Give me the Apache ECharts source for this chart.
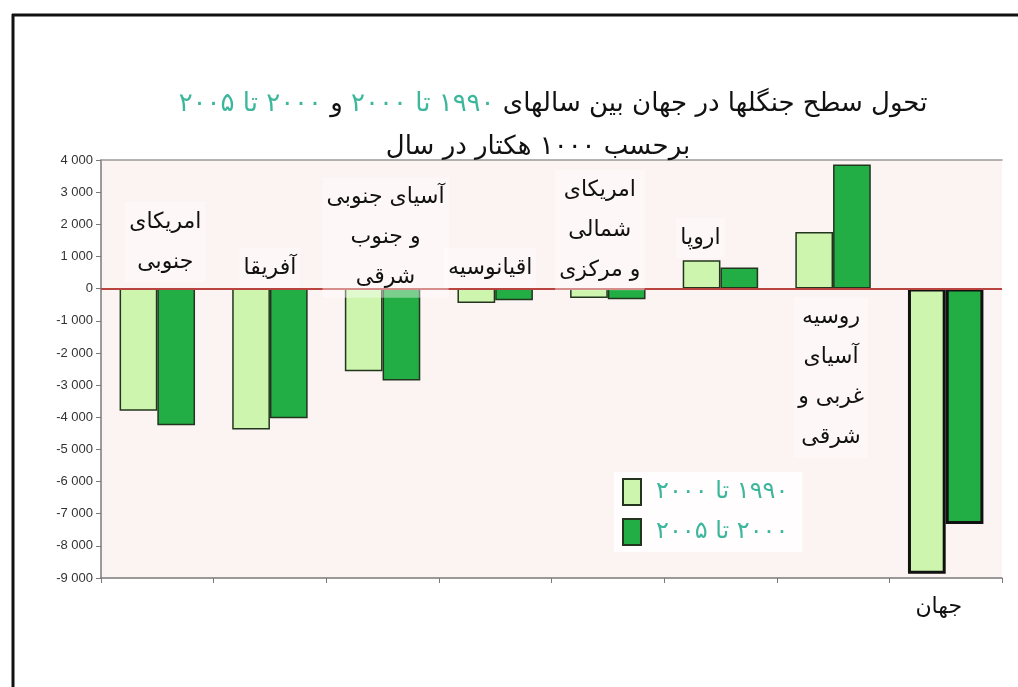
<!DOCTYPE html>
<html>
<head>
<meta charset="utf-8">
<script src="https://cdn.jsdelivr.net/npm/echarts@6/dist/echarts.min.js"></script>
<style>
  html, body { margin: 0; padding: 0; background: #ffffff; }
  #chart { width: 1018px; height: 687px; }
</style>
</head>
<body>
<div id="chart"></div>
<script>
// Regions (line breaks are how the names are laid out inside the plot)
const categories = [
  'امریکای\nجنوبی',
  'آفریقا',
  'آسیای جنوبی\nو جنوب\nشرقی',
  'اقیانوسیه',
  'امریکای\nشمالی\nو مرکزی',
  'اروپا',
  'روسیه\nآسیای\nغربی و\nشرقی',
  'جهان'
];

// Annual change of forest area, 1000 ha per year
const change1990to2000 = [-3800, -4380, -2570, -450, -290, 880, 1760, -8870];
const change2000to2005 = [-4250, -4030, -2860, -360, -330, 660, 3860, -7320];

// Series names (RLM keeps the Persian digits in right-to-left order)
const seriesNames = ['\u200F۱۹۹۰ تا ۲۰۰۰', '\u200F۲۰۰۰ تا ۲۰۰۵'];

// Y axis range
const yMin = -9000, yMax = 4000, yStep = 1000;

// Where each region name sits: top of text block (in axis units) and a small horizontal nudge (px)
const labelPlacement = [
  { top: 2700, dx: 8 },
  { top: 1260, dx: 0 },
  { top: 3450, dx: 3 },
  { top: 1260, dx: -5 },
  { top: 3680, dx: -8 },
  { top: 2200, dx: -20 },
  { top: -280, dx: -2 },
  { top: -9290, dx: -7 }
];

const LIGHT = '#cdf5ad';
const DARK = '#22ae44';
const EDGE = '#23351f';
const WORLD = categories.length - 1;

function barData(values) {
  return values.map((v, i) => i === WORLD
    ? { value: v, itemStyle: { borderWidth: 3, borderColor: '#111' } }
    : v);
}

function fmtTick(v) {
  if (v === 0) return '0';
  const s = Math.abs(v).toString();
  const body = s.length > 3 ? s.slice(0, s.length - 3) + ' ' + s.slice(-3) : s;
  return (v < 0 ? '-' : '') + body;
}

const chart = echarts.init(document.getElementById('chart'));
const FA = "'DejaVu Sans', sans-serif";

chart.setOption({
  animation: false,
  backgroundColor: '#ffffff',
  grid: {
    left: 101, right: 16, top: 160, bottom: 109,
    show: true, backgroundColor: '#fcf4f2', borderWidth: 0
  },
  legend: {
    orient: 'vertical',
    left: 614, top: 472,
    itemWidth: 18, itemHeight: 26, itemGap: 12,
    icon: 'rect',
    backgroundColor: '#fffdfd',
    padding: [6, 14, 6, 8],
    textStyle: { color: '#3db79c', fontSize: 24, fontFamily: FA, padding: [0, 0, 0, 10] },
    data: seriesNames
  },
  xAxis: [{
    type: 'category',
    data: categories,
    position: 'bottom',
    axisLine: { onZero: false, lineStyle: { color: '#7a7a7a', width: 1.5 } },
    axisTick: { show: true, length: 5, lineStyle: { color: '#7a7a7a' } },
    axisLabel: { show: false },
    splitLine: { show: false }
  }, {
    type: 'category',
    data: categories,
    position: 'top',
    axisLine: { show: true, onZero: false, lineStyle: { color: '#9a9a9a', width: 1.5 } },
    axisTick: { show: false },
    axisLabel: { show: false }
  }],
  yAxis: {
    type: 'value',
    min: yMin, max: yMax, interval: yStep,
    axisLine: { show: true, lineStyle: { color: '#7a7a7a', width: 1.5 } },
    axisTick: { show: true, length: 5, lineStyle: { color: '#7a7a7a' } },
    splitLine: { show: false },
    axisLabel: {
      formatter: fmtTick,
      color: '#333', fontSize: 13, margin: 8,
      fontFamily: "'Liberation Sans', Arial, sans-serif"
    }
  },
  series: [{
    name: seriesNames[0],
    type: 'bar',
    data: barData(change1990to2000),
    barGap: '0%',
    barCategoryGap: '33%',
    itemStyle: { color: LIGHT, borderColor: EDGE, borderWidth: 1.5 },
    markLine: {
      silent: true,
      symbol: 'none',
      label: { show: false },
      lineStyle: { color: '#b9443f', width: 2, type: 'solid' },
      data: [{ yAxis: 0 }]
    },
    z: 2
  }, {
    name: seriesNames[1],
    type: 'bar',
    data: barData(change2000to2005),
    itemStyle: { color: DARK, borderColor: EDGE, borderWidth: 1.5 },
    z: 2
  }]
});

// Region names, placed from the category axis and value axis
const regionLabels = categories.map((name, i) => {
  const p = chart.convertToPixel({ xAxisIndex: 0, yAxisIndex: 0 }, [i, labelPlacement[i].top]);
  return {
    type: 'text',
    x: p[0] + labelPlacement[i].dx,
    y: p[1],
    z: 10,
    style: {
      text: name,
      align: 'center',
      verticalAlign: 'top',
      font: '22px ' + FA,
      lineHeight: 40,
      fill: '#111',
      backgroundColor: i === WORLD ? 'transparent' : 'rgba(255,255,255,0.4)',
      padding: [0, 4]
    }
  };
});

chart.setOption({
  graphic: [
    // page frame
    { type: 'line', shape: { x1: 12, y1: 15, x2: 1018, y2: 15 }, style: { stroke: '#111', lineWidth: 3 } },
    { type: 'line', shape: { x1: 13, y1: 14, x2: 13, y2: 687 }, style: { stroke: '#111', lineWidth: 3 } },
    // heading
    {
      type: 'text', x: 553, y: 104, z: 10,
      style: {
        text: '{g|\u200F۲۰۰۰ تا ۲۰۰۵} {k|و} {g|\u200F۱۹۹۰ تا ۲۰۰۰} {k|تحول سطح جنگلها در جهان بین سالهای}',
        align: 'center', verticalAlign: 'middle',
        rich: {
          g: { fill: '#3db79c', font: '26px ' + FA },
          k: { fill: '#111', font: '26px ' + FA }
        },
        font: '26px ' + FA,
        fill: '#111'
      }
    },
    {
      type: 'text', x: 538, y: 147, z: 10,
      style: {
        text: '\u200Fبرحسب ۱۰۰۰ هکتار در سال',
        align: 'center', verticalAlign: 'middle',
        font: '26px ' + FA, fill: '#111'
      }
    }
  ].concat(regionLabels)
});
</script>
</body>
</html>
